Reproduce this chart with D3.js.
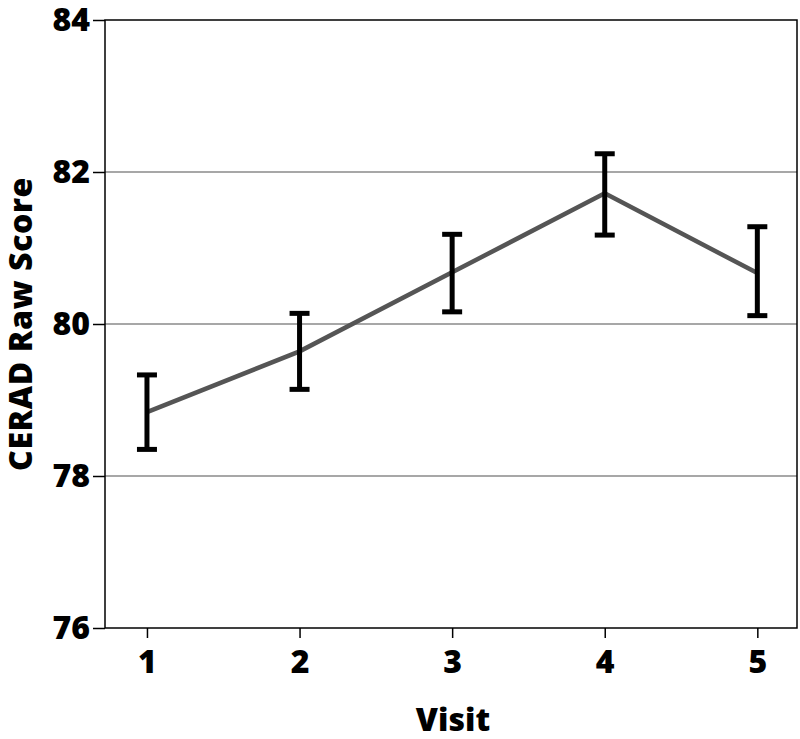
<!DOCTYPE html>
<html>
<head>
<meta charset="utf-8">
<script src="https://cdn.jsdelivr.net/npm/d3@7"></script>
<style>
  body { margin: 0; background: #fff; }
  text { font-family: "Open Sans", sans-serif; font-weight: 800; fill: #000; }
</style>
</head>
<body>
<svg id="chart" width="800" height="739"></svg>
<script>
const visits = [1, 2, 3, 4, 5];
const means = [78.84, 79.64, 80.68, 81.72, 80.67];
const upper = [79.33, 80.14, 81.18, 82.24, 81.28];
const lower = [78.35, 79.14, 80.16, 81.17, 80.11];
const yTicks = [76, 78, 80, 82, 84];

const svg = d3.select('#chart');
const mLeft = 105, mRight = 797, mTop = 20, mBottom = 628;

const x = d3.scaleLinear().domain([0.725, 5.26]).range([mLeft, mRight]);
const y = d3.scaleLinear().domain([76, 84]).range([mBottom, mTop]);

// grid lines
svg.append('g')
  .selectAll('line')
  .data([78, 80, 82])
  .enter()
  .append('line')
  .attr('x1', mLeft).attr('x2', mRight)
  .attr('y1', d => y(d)).attr('y2', d => y(d))
  .attr('stroke', '#8a8a8a')
  .attr('stroke-width', 1.3);

// axes
const yAxis = svg.append('g')
  .attr('transform', `translate(${mLeft},0)`)
  .call(d3.axisLeft(y).tickValues(yTicks).tickSize(12).tickPadding(3).tickFormat(d3.format('d')));
const xAxis = svg.append('g')
  .attr('transform', `translate(0,${mBottom})`)
  .call(d3.axisBottom(x).tickValues(visits).tickSize(10).tickPadding(12).tickFormat(d3.format('d')));

[yAxis, xAxis].forEach(a => {
  a.select('.domain').remove();
  a.selectAll('line').attr('stroke', '#000').attr('stroke-width', 1.5);
  a.selectAll('text').attr('font-size', 32).attr('font-family', '"Open Sans", sans-serif').attr('font-weight', 800);
});

// frame
svg.append('rect')
  .attr('x', mLeft).attr('y', mTop)
  .attr('width', mRight - mLeft).attr('height', mBottom - mTop)
  .attr('fill', 'none')
  .attr('stroke', '#000')
  .attr('stroke-width', 1.5);

// mean line
const line = d3.line()
  .x((d, i) => x(visits[i]))
  .y(d => y(d));
svg.append('path')
  .datum(means)
  .attr('d', line)
  .attr('fill', 'none')
  .attr('stroke', '#555')
  .attr('stroke-width', 4.5);

// error bars
const err = svg.append('g')
  .selectAll('g')
  .data(visits)
  .enter()
  .append('g')
  .attr('stroke', '#000')
  .attr('stroke-width', 5);
err.append('line')
  .attr('x1', d => x(d)).attr('x2', d => x(d))
  .attr('y1', (d, i) => y(upper[i])).attr('y2', (d, i) => y(lower[i]));
err.append('line')
  .attr('x1', d => x(d) - 10).attr('x2', d => x(d) + 10)
  .attr('y1', (d, i) => y(upper[i])).attr('y2', (d, i) => y(upper[i]));
err.append('line')
  .attr('x1', d => x(d) - 10).attr('x2', d => x(d) + 10)
  .attr('y1', (d, i) => y(lower[i])).attr('y2', (d, i) => y(lower[i]));

// titles
svg.append('text')
  .attr('x', 453)
  .attr('y', 731)
  .attr('text-anchor', 'middle')
  .attr('font-size', 32)
  .text('Visit');
svg.append('text')
  .attr('transform', `translate(32,324) rotate(-90)`)
  .attr('text-anchor', 'middle')
  .attr('font-size', 32)
  .attr('letter-spacing', 0.6)
  .text('CERAD Raw Score');
</script>
</body>
</html>
